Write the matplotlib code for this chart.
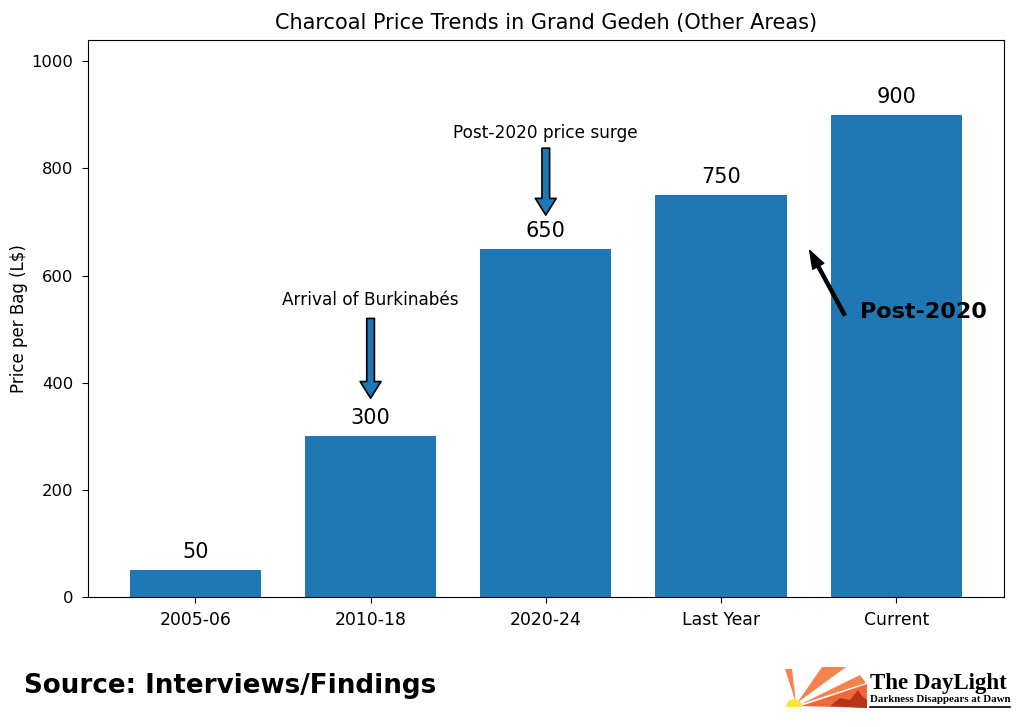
import matplotlib
matplotlib.use('Agg')
import matplotlib.pyplot as plt
from matplotlib.patches import Polygon, Wedge

# Dados
periodos = ['2005-06', '2010-18', '2020-24', 'Last Year', 'Current']
precos = [50, 300, 650, 750, 900]

notas = ['Arrival of Burkinabés', 'Post-2020 price surge']
notas_idx = [1, 2]

# deslocamentos das notas acima das barras (texto, cauda, ponta)
notas_off = [(254, 220, 71), (217, 188, 63)]

fig = plt.figure(figsize=(10.24, 7.27), dpi=100)
ax = fig.add_axes([0.086, 0.179, 0.894, 0.766])

x = list(range(len(periodos)))
barras = ax.bar(x, precos, color='#1f77b4', width=0.75)

for xi, v in zip(x, precos):
    ax.text(xi, v + 15, str(v), ha='center', va='bottom', fontsize=15)

ax.set_xticks(x)
ax.set_xticklabels(periodos, fontsize=12.4)
ax.tick_params(axis='x', length=4.5, pad=5.5)
ax.tick_params(axis='y', labelsize=11.8, length=4.5, pad=6)
ax.set_ylim(0, 1040)
ax.set_ylabel('Price per Bag (L$)', fontsize=12, labelpad=2.5)
ax.set_title('Charcoal Price Trends in Grand Gedeh (Other Areas)', fontsize=15, pad=8)

# setas azuis com texto
for nota, i, (dt, dc, dp) in zip(notas, notas_idx, notas_off):
    v = precos[i]
    ax.text(i, v + dt, nota, ha='center', va='center', fontsize=12.2)
    ax.annotate('', xy=(i, v + dp), xytext=(i, v + dc),
                arrowprops=dict(facecolor='#1f77b4', edgecolor='black',
                                width=5.5, headwidth=15, headlength=12, lw=1.2, shrink=0))

# seta preta
ax.annotate('', xy=(3.506, 647), xytext=(3.706, 526),
            arrowprops=dict(facecolor='black', edgecolor='black',
                            width=2.2, headwidth=9, headlength=13, shrink=0))
ax.text(3.793, 532, 'Post-2020', fontsize=16, fontweight='bold', va='center', ha='left')

fig.text(0.023, 0.056, 'Source: Interviews/Findings', fontsize=18.8, fontweight='bold',
         va='center', ha='left')

# logo
lg = fig.add_axes([770 / 1024, 7 / 727, 254 / 1024, 80 / 727])
lg.set_xlim(770, 1024)
lg.set_ylim(720, 640)
lg.axis('off')
laranja = '#f5834f'
lg.add_patch(Polygon([(785, 669), (792, 669), (796, 703)], closed=True, color=laranja, lw=0))
lg.add_patch(Polygon([(797, 703), (822, 667), (846, 667)], closed=True, color=laranja, lw=0))
lg.add_patch(Polygon([(801, 704), (860, 675), (866, 683)], closed=True, color=laranja, lw=0))
lg.add_patch(Polygon([(801, 706), (867, 684), (867, 708)], closed=True, color='#ef6a3a', lw=0))
lg.add_patch(Polygon([(830, 706), (840, 698), (850, 700), (858, 690), (862, 696), (867, 700), (867, 708)],
                     closed=True, color='#b8331a', lw=0))
lg.add_patch(Wedge((794, 707), 8, 180, 360, color='#ffe23a', lw=0))
lg.text(870, 683, 'The DayLight', fontsize=16.5, family='Liberation Serif',
        fontweight='bold', va='center', ha='left')
lg.text(870, 700, 'Darkness Disappears at Dawn', fontsize=7.8, family='Liberation Serif',
        fontweight='bold', va='center', ha='left')
lg.plot([870, 1010], [707, 707], color='black', lw=1.2)

fig.savefig('out.png', dpi=100)
